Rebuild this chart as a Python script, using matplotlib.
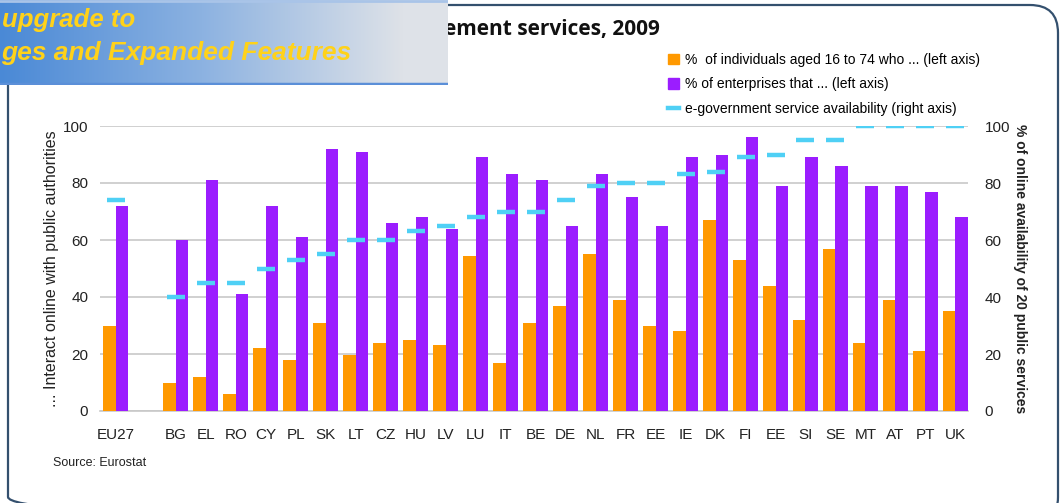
import numpy as np
import matplotlib
matplotlib.use("Agg")
import matplotlib.pyplot as plt
from matplotlib.patches import FancyBboxPatch, Rectangle
from matplotlib.lines import Line2D

categories = ["EU27", "", "BG", "EL", "RO", "CY", "PL", "SK", "LT", "CZ", "HU", "LV",
              "LU", "IT", "BE", "DE", "NL", "FR", "EE", "IE", "DK", "FI", "EE", "SI",
              "SE", "MT", "AT", "PT", "UK"]
individuals = [30, np.nan, 10, 12, 6, 22, 18, 31, 19.5, 24, 25, 23,
               54.5, 17, 31, 37, 55, 39, 30, 28, 67, 53, 44, 32,
               57, 24, 39, 21, 35]
enterprises = [72, np.nan, 60, 81, 41, 72, 61, 92, 91, 66, 68, 64,
               89, 83, 81, 65, 83, 75, 65, 89, 90, 96, 79, 89,
               86, 79, 79, 77, 68]
availability = [74, np.nan, 40, 45, 45, 50, 53, 55, 60, 60, 63, 65,
                68, 70, 70, 74, 79, 80, 80, 83, 84, 89, 90, 95,
                95, 100, 100, 100, 100]
yticks = [0, 20, 40, 60, 80, 100]

ORANGE = "#FF9900"
PURPLE = "#9B1DFF"
CYAN = "#4FD0F5"
GRID = "#C8C8C8"
FONT = ["Liberation Sans", "DejaVu Sans"]
plt.rcParams["font.family"] = FONT

W, H = 1060, 503
fig = plt.figure(figsize=(W / 100, H / 100), dpi=100)
fig.patch.set_facecolor("white")

# background frame axes (pixel coords)
bg = fig.add_axes([0, 0, 1, 1], zorder=0)
bg.set_xlim(0, W)
bg.set_ylim(H, 0)
bg.axis("off")
bg.add_patch(FancyBboxPatch((8, 5), 1050, 520, boxstyle="round,pad=0,rounding_size=28",
                            fill=False, ec="#34506E", lw=1.6))

# main axes
L, R, T, B = 100, 968, 126, 411
ax = fig.add_axes([L / W, 1 - B / H, (R - L) / W, (B - T) / H], zorder=2)
ax.patch.set_alpha(0)
x = np.arange(len(categories))
bw = 0.42
ax.bar(x - bw / 2, individuals, width=bw, color=ORANGE, zorder=3)
ax.bar(x + bw / 2, enterprises, width=bw, color=PURPLE, zorder=3)
ax.set_xlim(-0.53, len(categories) - 1 + 0.42)
ax.set_ylim(0, 100)
ax.set_yticks(yticks)
ax.yaxis.grid(True, color=GRID, lw=1.2, zorder=0)
ax.set_axisbelow(True)
for s in ["top", "right", "left"]:
    ax.spines[s].set_visible(False)
ax.spines["bottom"].set_color(GRID)
ax.spines["bottom"].set_linewidth(1.2)
ax.set_xticks(x)
ax.set_xticklabels(categories, fontsize=11, color="#222222")
ax.tick_params(axis="both", length=0)
ax.tick_params(axis="x", pad=12)
ax.tick_params(axis="y", pad=8.5, labelsize=11, labelcolor="#222222")
ax.set_ylabel("... Interact online with public authorities", fontsize=11.5,
              color="#222222", va="center")
ax.yaxis.set_label_coords((51 - L) / (R - L), 0.5)

ax2 = ax.twinx()
ax2.set_ylim(0, 100)
ax2.set_yticks(yticks)
for s in ["top", "right", "left", "bottom"]:
    ax2.spines[s].set_visible(False)
ax2.tick_params(axis="y", length=0, pad=12, labelsize=11, labelcolor="#222222")
ax2.plot(x, availability, linestyle="none", marker="_", markersize=12.5,
         markeredgewidth=3.2, color=CYAN, zorder=5)
ax2.set_ylabel("% of online availability of 20 public services", fontsize=10,
               color="#222222", rotation=-90, va="center", fontweight="bold")
ax2.yaxis.set_label_coords((1020 - L) / (R - L), 0.5)

# legend
handles = [Rectangle((0, 0), 1, 1, color=ORANGE),
           Rectangle((0, 0), 1, 1, color=PURPLE),
           Line2D([], [], color=CYAN, lw=3.2)]
labels = ["%  of individuals aged 16 to 74 who ... (left axis)",
          "% of enterprises that ... (left axis)",
          "e-government service availability (right axis)"]
fig.legend(handles, labels, loc="upper left", bbox_to_anchor=(668 / W, 1 - 53 / H),
           frameon=False, fontsize=10, handlelength=0.8, handleheight=0.8,
           handletextpad=0.4, labelspacing=0.75, borderaxespad=0, borderpad=0)

# visible part of the title (the rest is hidden by the banner)
fig.text(444 / W, 1 - 29 / H, "ement services, 2009",
         ha="left", va="center", fontsize=15, fontweight="bold",
         family=["Open Sans", "DejaVu Sans"], color="#111111")

fig.text(53 / W, 1 - 463 / H, "Source: Eurostat", fontsize=9, color="#222222",
         va="center", ha="left")

# banner overlay
bn = fig.add_axes([0, 1 - 85 / H, 448 / W, 85 / H], zorder=10)
c0 = np.array([74, 137, 214]) / 255
c1 = np.array([140, 178, 225]) / 255
c2 = np.array([222, 226, 232]) / 255
t = np.linspace(0, 1, 448)
grad = np.where(t[:, None] < 0.45, c0 + (c1 - c0) * (t[:, None] / 0.45),
                c1 + (c2 - c1) * np.clip((t[:, None] - 0.45) / 0.45, 0, 1))
bn.imshow(grad[None, :, :].repeat(85, axis=0), aspect="auto", extent=(0, 448, 85, 0))
bn.set_xlim(0, 448)
bn.set_ylim(85, 0)
bn.axis("off")
bn.axhline(83.5, color="#5B8FD8", lw=2.5)
bn.axhline(1, color="#A9C4E8", lw=2)
bn.text(2, 20, "upgrade to", fontsize=18.5, fontweight="bold", fontstyle="italic",
        color="#FFD21A", va="center", ha="left", family=["Liberation Sans", "DejaVu Sans"])
bn.text(1, 53, "ges and Expanded Features", fontsize=19, fontweight="bold",
        fontstyle="italic", color="#FFD21A", va="center", ha="left",
        family=["Liberation Sans", "DejaVu Sans"])

fig.savefig("out.png", dpi=100)
